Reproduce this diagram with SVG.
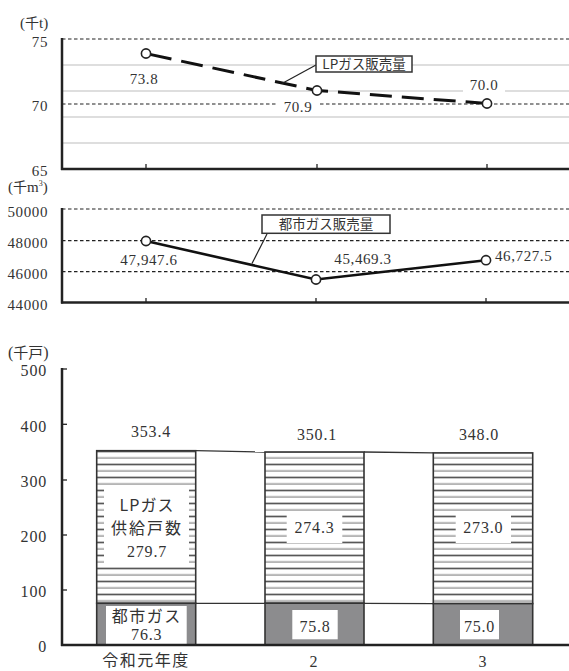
<svg xmlns="http://www.w3.org/2000/svg" width="569" height="671" viewBox="0 0 569 671">
<defs>
<style>
.n{font-size:15px;letter-spacing:0.6px;fill:#333;}
.nb{font-size:16px;letter-spacing:0.8px;fill:#333;}
.j{fill:#333;}
.ax{stroke:#222;stroke-width:2.5;fill:none;}
.dash{stroke:#222;stroke-width:1.2;stroke-dasharray:3.5 2.5;fill:none;}
.grid{stroke:#bdbdbd;stroke-width:1.2;fill:none;}
.tick{stroke:#222;stroke-width:1.3;}
.mk{fill:#fff;stroke:#222;stroke-width:1.6;}
.bar{stroke:#333;stroke-width:1.6;}
.con{stroke:#333;stroke-width:1.3;fill:none;}
</style>
<pattern id="hatch" patternUnits="userSpaceOnUse" x="0" y="450.7" width="10" height="13">
<rect width="10" height="13" fill="#fff"/>
<line x1="0" y1="0.7" x2="10" y2="0.7" stroke="#333" stroke-width="1.4"/>
<line x1="0" y1="7.2" x2="10" y2="7.2" stroke="#555" stroke-width="0.9"/>
</pattern>
</defs>
<rect width="569" height="671" fill="#fff"/>
<g font-family="Liberation Serif, Noto Sans CJK JP, serif">

<g id="chart-lp">
<text x="20" y="28" class="n" style="letter-spacing:0">(<tspan font-family="Noto Sans CJK JP, sans-serif" font-size="14">千</tspan>t)</text>
<line class="grid" x1="62" y1="65" x2="569" y2="65"/>
<line class="grid" x1="62" y1="91" x2="569" y2="91"/>
<line class="grid" x1="62" y1="117" x2="569" y2="117"/>
<line class="grid" x1="62" y1="143" x2="569" y2="143"/>
<line class="dash" x1="62" y1="39" x2="569" y2="39"/>
<line class="dash" x1="62" y1="104" x2="569" y2="104"/>
<rect x="277" y="96" width="42" height="17" fill="#fff"/>
<rect x="463" y="77" width="42" height="18" fill="#fff"/>
<text x="48" y="46.5" class="n" text-anchor="end">75</text>
<text x="48" y="110.7" class="n" text-anchor="end">70</text>
<text x="48" y="176" class="n" text-anchor="end">65</text>
<line class="ax" x1="62" y1="38" x2="62" y2="170"/>
<line class="ax" x1="61" y1="169" x2="569" y2="169"/>
<line class="tick" x1="146" y1="164" x2="146" y2="169"/>
<line class="tick" x1="317" y1="164" x2="317" y2="169"/>
<line class="tick" x1="487" y1="164" x2="487" y2="169"/>
</g>

<g id="series-lp">
<polyline points="146,53.5 317,90.5 487,103.5" fill="none" stroke="#111" stroke-width="3" stroke-dasharray="22 10" stroke-dashoffset="-4"/>
<circle class="mk" cx="146" cy="53.5" r="4.6"/>
<circle class="mk" cx="317" cy="90.5" r="4.6"/>
<circle class="mk" cx="487" cy="103.5" r="4.6"/>
<text x="144" y="84" class="n" text-anchor="middle">73.8</text>
<text x="298" y="111.5" class="n" text-anchor="middle">70.9</text>
<text x="484" y="90" class="n" text-anchor="middle">70.0</text>
</g>

<g id="callout-lp">
<line x1="316" y1="65" x2="282" y2="83.5" stroke="#222" stroke-width="1.2"/>
<rect x="316" y="56" width="96" height="16" fill="#fff" stroke="#333" stroke-width="1.5"/>
<text x="364" y="69" class="j" font-family="Noto Sans CJK JP, sans-serif" font-size="13.5" text-anchor="middle">LPガス販売量</text>
</g>

<g id="chart-city">
<text x="8" y="192" class="n" style="letter-spacing:0">(<tspan font-family="Noto Sans CJK JP, sans-serif" font-size="14">千</tspan>m<tspan font-size="8" dy="-6">3</tspan><tspan dy="6">)</tspan></text>
<line class="dash" x1="62" y1="209" x2="569" y2="209"/>
<line class="dash" x1="62" y1="240.7" x2="569" y2="240.7"/>
<line class="dash" x1="62" y1="271.7" x2="569" y2="271.7"/>
<text x="48" y="216.5" class="n" text-anchor="end">50000</text>
<text x="48" y="247.5" class="n" text-anchor="end">48000</text>
<text x="48" y="278.5" class="n" text-anchor="end">46000</text>
<text x="48" y="309.5" class="n" text-anchor="end">44000</text>
<line class="ax" x1="62" y1="208" x2="62" y2="303.5"/>
<line class="ax" x1="61" y1="302.5" x2="569" y2="302.5"/>
<line class="tick" x1="146" y1="298" x2="146" y2="302.5"/>
<line class="tick" x1="316" y1="298" x2="316" y2="302.5"/>
<line class="tick" x1="486" y1="298" x2="486" y2="302.5"/>
</g>

<g id="series-city">
<polyline points="146,241 316,279.5 486,260.2" fill="none" stroke="#111" stroke-width="2.6"/>
<circle class="mk" cx="146" cy="241" r="4.6"/>
<circle class="mk" cx="316" cy="279.5" r="4.6"/>
<circle class="mk" cx="486" cy="260.2" r="4.6"/>
<text x="149" y="265" class="n" text-anchor="middle">47,947.6</text>
<text x="363" y="264" class="n" text-anchor="middle">45,469.3</text>
<text x="495" y="261" class="n">46,727.5</text>
</g>

<g id="callout-city">
<line x1="267" y1="234" x2="252" y2="263.5" stroke="#222" stroke-width="1.2"/>
<rect x="262" y="215" width="128" height="18.3" fill="#fff" stroke="#333" stroke-width="1.5"/>
<text x="326" y="229" class="j" font-family="Noto Sans CJK JP, sans-serif" font-size="13.5" text-anchor="middle">都市ガス販売量</text>
</g>

<g id="chart-households">
<text x="8" y="357.5" class="n" style="letter-spacing:0;font-size:16px">(<tspan font-family="Noto Sans CJK JP, sans-serif" font-size="15">千戸</tspan>)</text>
<text x="47" y="376" class="nb" text-anchor="end">500</text>
<text x="47" y="431.5" class="nb" text-anchor="end">400</text>
<text x="47" y="487" class="nb" text-anchor="end">300</text>
<text x="47" y="542" class="nb" text-anchor="end">200</text>
<text x="47" y="597" class="nb" text-anchor="end">100</text>
<text x="47" y="652" class="nb" text-anchor="end">0</text>
<line class="ax" x1="62" y1="368" x2="62" y2="646"/>
<line class="tick" x1="62" y1="369" x2="67" y2="369"/>
<line class="tick" x1="62" y1="424.3" x2="67" y2="424.3"/>
<line class="tick" x1="62" y1="480" x2="67" y2="480"/>
<line class="tick" x1="62" y1="535" x2="67" y2="535"/>
<line class="tick" x1="62" y1="590" x2="67" y2="590"/>
<text x="146" y="666" class="j" font-family="Noto Sans CJK JP, sans-serif" font-size="16" letter-spacing="1.5" text-anchor="middle">令和元年度</text>
<text x="314" y="667" class="nb" text-anchor="middle">2</text>
<text x="483" y="667" class="nb" text-anchor="middle">3</text>
</g>

<g id="connectors">
<line class="con" x1="196" y1="450.7" x2="265" y2="452"/>
<line class="con" x1="364" y1="452" x2="433.3" y2="452.9"/>
<line class="con" x1="196" y1="603.3" x2="265" y2="603.3"/>
<line class="con" x1="364" y1="603.3" x2="433.3" y2="603.6"/>
</g>

<g id="bar-1">
<rect class="bar" x="96.7" y="450.7" width="99" height="152.6" fill="url(#hatch)"/>
<rect class="bar" x="96.7" y="603.3" width="99" height="41.7" fill="#8c8c8e"/>
<rect x="104" y="485" width="85" height="82" fill="#fff"/>
<rect x="106" y="606" width="80.7" height="38" fill="#fff"/>
<text x="147" y="510.5" class="j" font-family="Noto Sans CJK JP, sans-serif" font-size="16" letter-spacing="1" text-anchor="middle">LPガス</text>
<text x="147" y="534" class="j" font-family="Noto Sans CJK JP, sans-serif" font-size="16" letter-spacing="2" text-anchor="middle">供給戸数</text>
<text x="147" y="557" class="nb" text-anchor="middle">279.7</text>
<text x="146.7" y="622" class="j" font-family="Noto Sans CJK JP, sans-serif" font-size="16" letter-spacing="1.5" text-anchor="middle">都市ガス</text>
<text x="146.7" y="640" class="nb" text-anchor="middle">76.3</text>
<text x="151" y="437" class="nb" text-anchor="middle">353.4</text>
</g>

<g id="bar-2">
<rect class="bar" x="265" y="452" width="99" height="151.2" fill="url(#hatch)"/>
<rect class="bar" x="265" y="603.2" width="99" height="41.8" fill="#8c8c8e"/>
<rect x="286.7" y="511" width="55.6" height="32" fill="#fff"/>
<rect x="292.3" y="610" width="45.4" height="29.3" fill="#fff"/>
<text x="314.5" y="532.5" class="nb" text-anchor="middle">274.3</text>
<text x="315" y="631.5" class="nb" text-anchor="middle">75.8</text>
<text x="317" y="440" class="nb" text-anchor="middle">350.1</text>
</g>

<g id="bar-3">
<rect class="bar" x="433.3" y="452.9" width="99.4" height="150.7" fill="url(#hatch)"/>
<rect class="bar" x="433.3" y="603.6" width="99.4" height="41.4" fill="#8c8c8e"/>
<rect x="455.7" y="511" width="55.3" height="32" fill="#fff"/>
<rect x="460" y="610" width="39" height="29.3" fill="#fff"/>
<text x="483.3" y="532.5" class="nb" text-anchor="middle">273.0</text>
<text x="479.5" y="631.5" class="nb" text-anchor="middle">75.0</text>
<text x="479" y="440" class="nb" text-anchor="middle">348.0</text>
</g>

<g id="axis-bottom">
<line class="ax" x1="61" y1="645" x2="569" y2="645"/>
</g>
</g>
</svg>
